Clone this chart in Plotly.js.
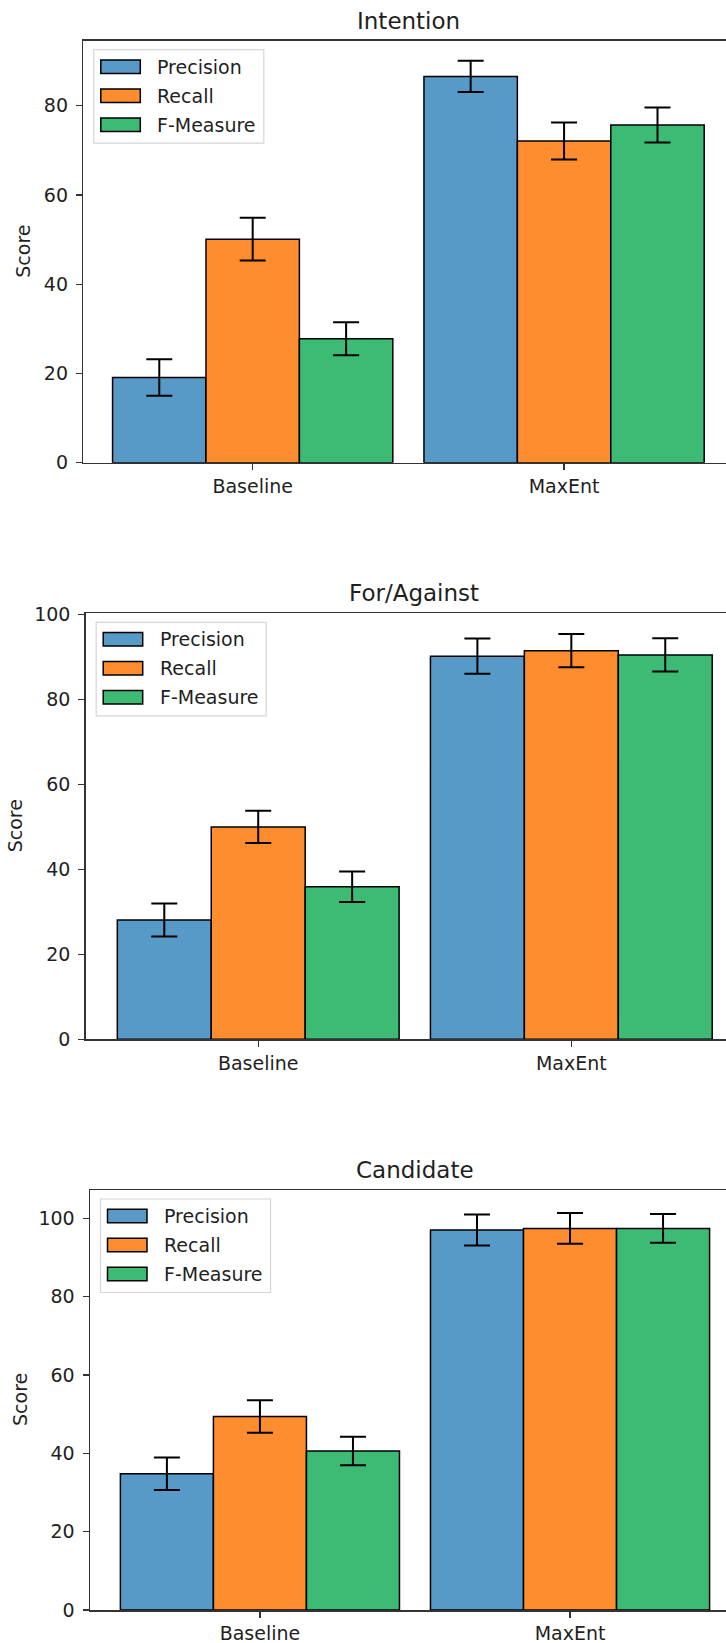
<!DOCTYPE html>
<html>
<head>
<meta charset="utf-8">
<script src="https://cdn.plot.ly/plotly-3.0.1.min.js"></script>
<style>
  html, body { margin: 0; padding: 0; background: #ffffff; overflow: hidden; }
  #chart { width: 726px; height: 1643px; }
</style>
</head>
<body>
<div id="chart"></div>
<script>
// ---------- data ----------
const categories = ['Baseline', 'MaxEnt'];
const seriesNames = ['Precision', 'Recall', 'F-Measure'];
const panelTitles = ['Intention', 'For/Against', 'Candidate'];

const intentionPrecision = [19.1, 86.6];
const intentionRecall = [50.1, 72.1];
const intentionFMeasure = [27.8, 75.7];
const intentionPrecisionErr = [4.1, 3.5];
const intentionRecallErr = [4.8, 4.15];
const intentionFMeasureErr = [3.7, 3.9];

const forAgainstPrecision = [28.1, 90.2];
const forAgainstRecall = [50.0, 91.5];
const forAgainstFMeasure = [35.9, 90.5];
const forAgainstPrecisionErr = [3.9, 4.15];
const forAgainstRecallErr = [3.8, 3.9];
const forAgainstFMeasureErr = [3.6, 3.9];

const candidatePrecision = [34.8, 97.0];
const candidateRecall = [49.4, 97.4];
const candidateFMeasure = [40.6, 97.4];
const candidatePrecisionErr = [4.15, 3.95];
const candidateRecallErr = [4.15, 3.9];
const candidateFMeasureErr = [3.65, 3.65];

const yTickVals = [[0, 20, 40, 60, 80], [0, 20, 40, 60, 80, 100], [0, 20, 40, 60, 80, 100]];

// ---------- styling / geometry ----------
const W = 726, H = 1643;
const colors = ['#5799C7', '#FD8D2E', '#3DBB74'];
const FONT = 'DejaVu Sans, Liberation Sans, sans-serif';
const TXT = '#1f1f1f';

const panels = [
  { values: [intentionPrecision, intentionRecall, intentionFMeasure],
    errors: [intentionPrecisionErr, intentionRecallErr, intentionFMeasureErr],
    left: 83.3, top: 40.7, bottom: 462.7, xr: [-0.544, 1.52], yr: [0, 94.6],
    titleX: 408.5, titleY: 21, scoreX: 23 },
  { values: [forAgainstPrecision, forAgainstRecall, forAgainstFMeasure],
    errors: [forAgainstPrecisionErr, forAgainstRecallErr, forAgainstFMeasureErr],
    left: 85.7, top: 613.3, bottom: 1039.3, xr: [-0.551, 1.494], yr: [0, 100.3],
    titleX: 413.8, titleY: 593, scoreX: 15 },
  { values: [candidatePrecision, candidateRecall, candidateFMeasure],
    errors: [candidatePrecisionErr, candidateRecallErr, candidateFMeasureErr],
    left: 90, top: 1190, bottom: 1610, xr: [-0.548, 1.503], yr: [0, 107.2],
    titleX: 414.5, titleY: 1170, scoreX: 20 }
];

const px = v => v / W;
const py = v => (H - v) / H;

const traces = [];
const layout = {
  width: W, height: H,
  margin: { l: 0, r: 0, t: 0, b: 0 },
  paper_bgcolor: '#ffffff', plot_bgcolor: '#ffffff',
  barmode: 'group', bargap: 0.1, bargroupgap: 0,
  showlegend: false,
  font: { family: FONT, size: 19, color: TXT },
  shapes: [], annotations: []
};

panels.forEach((p, i) => {
  const n = i === 0 ? '' : String(i + 1);
  const xa = 'x' + n, ya = 'y' + n;
  for (let s = 0; s < 3; s++) {
    traces.push({
      type: 'bar', name: seriesNames[s], x: categories, y: p.values[s],
      xaxis: xa, yaxis: ya,
      marker: { color: colors[s], line: { color: '#000000', width: 1.5 } },
      error_y: { type: 'data', array: p.errors[s], visible: true, color: '#000000', thickness: 2, width: 13 },
      hoverinfo: 'skip'
    });
  }
  const axisCommon = {
    showline: true, linecolor: '#333333', linewidth: 1.5,
    ticks: 'outside', ticklen: 6, tickwidth: 1.3, tickcolor: '#333333',
    showgrid: false, zeroline: false,
    tickfont: { family: FONT, size: 19, color: TXT }
  };
  layout['xaxis' + n] = Object.assign({}, axisCommon, {
    domain: [px(p.left), 1], anchor: ya, range: p.xr, type: 'category',
    mirror: true, fixedrange: true, ticklabelstandoff: 0
  });
  layout['yaxis' + n] = Object.assign({}, axisCommon, {
    domain: [py(p.bottom), py(p.top)], anchor: xa, range: p.yr,
    tickvals: yTickVals[i], ticktext: yTickVals[i].map(String),
    fixedrange: true, ticklabelstandoff: 4
  });
  // title
  layout.annotations.push({
    text: panelTitles[i], xref: 'paper', yref: 'paper',
    x: px(p.titleX), y: py(p.titleY), xanchor: 'center', yanchor: 'middle',
    showarrow: false, font: { family: FONT, size: 23, color: TXT }
  });
  // y label
  layout.annotations.push({
    text: 'Score', xref: 'paper', yref: 'paper', textangle: -90,
    x: px(p.scoreX), y: py((p.top + p.bottom) / 2), xanchor: 'center', yanchor: 'middle',
    showarrow: false, font: { family: FONT, size: 19, color: TXT }
  });
  // legend box (matplotlib-style)
  layout.shapes.push({
    type: 'rect', xref: 'paper', yref: 'paper',
    x0: px(p.left + 10.5), x1: px(p.left + 180.5),
    y0: py(p.top + 9), y1: py(p.top + 102.5),
    fillcolor: 'rgba(255,255,255,0.85)', line: { color: '#d6d6d6', width: 1.2 }
  });
  const rows = [26, 55, 84];
  for (let s = 0; s < 3; s++) {
    const cy = p.top + rows[s];
    layout.shapes.push({
      type: 'rect', xref: 'paper', yref: 'paper',
      x0: px(p.left + 17.5), x1: px(p.left + 57),
      y0: py(cy - 6.8), y1: py(cy + 6.8),
      fillcolor: colors[s], line: { color: '#000000', width: 1.5 }
    });
    layout.annotations.push({
      text: seriesNames[s], xref: 'paper', yref: 'paper',
      x: px(p.left + 72), y: py(cy), xanchor: 'left', yanchor: 'middle',
      showarrow: false, font: { family: FONT, size: 19, color: TXT }
    });
  }
});

Plotly.newPlot('chart', traces, layout, { staticPlot: true, displayModeBar: false });
</script>
</body>
</html>
